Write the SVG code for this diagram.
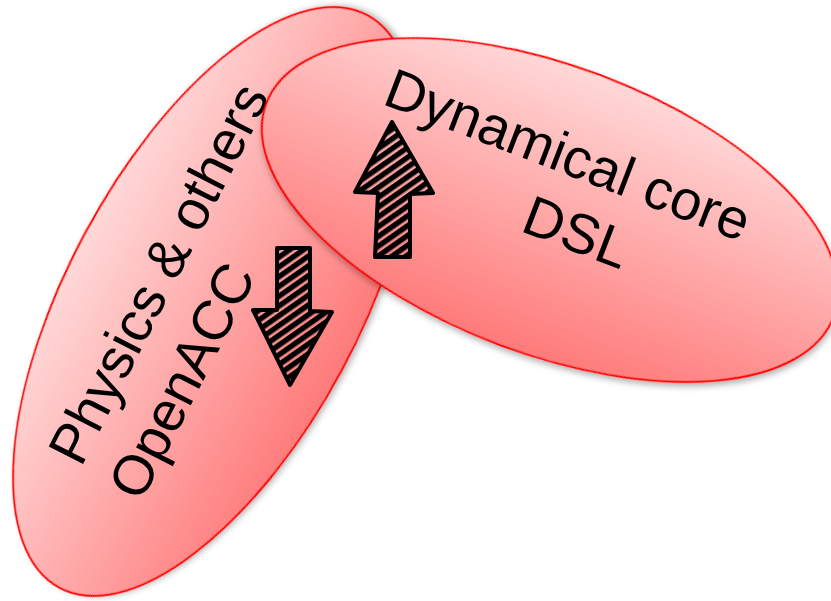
<svg xmlns="http://www.w3.org/2000/svg" width="831" height="601" viewBox="0 0 831 601">
  <defs>
    <linearGradient id="gradFill" x1="0" y1="0" x2="0" y2="1">
      <stop offset="0" stop-color="#ffd8d8"/>
      <stop offset="1" stop-color="#ff7a7a"/>
    </linearGradient>
    <filter id="shadow" x="-10%" y="-10%" width="120%" height="120%">
      <feDropShadow dx="2" dy="3" stdDeviation="3" flood-color="#000" flood-opacity="0.3"/>
    </filter>
    <pattern id="hatch" width="8" height="8" patternUnits="userSpaceOnUse" patternTransform="rotate(-35)">
      <rect x="0" y="0" width="8" height="5.4" fill="#000"/>
    </pattern>
  </defs>
  <style>
    .blob { fill: url(#gradFill); stroke: #ff0000; stroke-width: 2; filter: url(#shadow); }
    .lbl { font-family: "Liberation Sans", Arial, sans-serif; font-size: 56px; fill: #000; }
    .arrow { fill: url(#hatch); stroke: #000; stroke-width: 4; stroke-linejoin: round; }
  </style>

  <g id="physics">
    <ellipse class="blob" cx="0" cy="0" rx="325" ry="145.6" transform="translate(213.5,301.5) rotate(-61.7)"/>
    <text class="lbl" transform="translate(81,468) rotate(-63)">Physics &amp; others</text>
    <text class="lbl" transform="translate(141,503) rotate(-63)">OpenACC</text>
  </g>

  <g id="dycore">
    <ellipse class="blob" cx="0" cy="0" rx="303" ry="144" transform="translate(550,210) rotate(20.6)"/>
    <text class="lbl" transform="translate(381,103.5) rotate(21)">Dynamical core</text>
    <text class="lbl" transform="translate(519,230.5) rotate(21)">DSL</text>
  </g>

  <g id="connectors">
    <path class="arrow" d="M392,122 L433,193 L410,194 L410,257 L375,257 L378,193 L355,192 Z"/>
    <path class="arrow" d="M277,248 L310,248 L310,311 L332,312 L290,385 L253,310 L277,310 Z"/>
  </g>
</svg>
